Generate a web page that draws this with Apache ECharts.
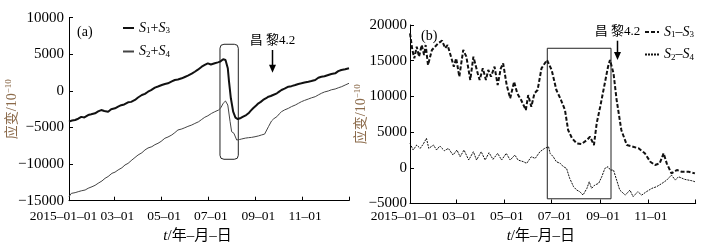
<!DOCTYPE html>
<html>
<head>
<meta charset="utf-8">
<script src="https://cdn.jsdelivr.net/npm/echarts@6/dist/echarts.min.js"></script>
<style>
  html, body { margin: 0; padding: 0; background: #fff; }
  #chart { width: 707px; height: 251px; }
</style>
</head>
<body>
<div id="chart"></div>
<script>
// x positions are day-of-year (0 = 2015-01-01)
const tickDays = [0, 59, 120, 181, 243, 304, 365];
const labelDays = [0, 59, 120, 181, 243, 304];
const tickLabels = ['2015-01-01', '03-01', '05-01', '07-01', '09-01', '11-01'];

// panel (a) S1+S3
const dayA1 = [0,4,8,12,16,20,25,29,34,38,42,46,51,55,60,64,68,72,77,81,86,90,95,99,103,107,112,116,121,125,129,134,138,142,147,151,155,160,164,168,173,177,181,185,190,194,197,201,204,207,208.6,211,214,217,220,224,227,231,234,237,240,244,247,250,253,257,260,263,266,268,271,274,277,281,286,290,295,299,303,307,312,316,321,325,329,333,338,342,347,351,355,360,365];
const valA1 = [-4200,-4050,-3970,-3800,-3550,-3620,-3300,-3200,-3060,-2800,-2620,-2750,-2850,-2500,-2380,-2150,-1950,-1850,-1560,-1500,-1240,-900,-560,-400,-110,100,440,600,810,950,1040,1300,1490,1550,1720,1900,2080,2350,2620,2900,3310,3550,3770,3600,3770,3900,4000,4320,4220,3090,1260,-1010,-2840,-3660,-3840,-3700,-3520,-3300,-3060,-2700,-2380,-2000,-1690,-1500,-1240,-1000,-790,-700,-560,-700,-330,-100,120,300,580,650,810,950,1040,1150,1260,1350,1490,1800,1940,2000,2170,2300,2400,2700,2860,2950,3090];

// panel (a) S2+S4
const dayA2 = [0,3,8,12,16,21,25,30,34,38,43,47,51,56,60,64,69,73,77,82,86,90,95,99,103,108,112,116,120,125,129,134,138,142,147,151,155,160,164,169,173,177,181,186,190,195,198,201,204,207,210,212,215,218.6,222,225,230,234,238,242.5,247,251,255,257,260,264,267,271,274,277,281,286,290,295,299,303,307,312,316,321,325,329,333,338,342,347,351,355.5,360,365];
const valA2 = [-14450,-14000,-13900,-13770,-13650,-13540,-13300,-13090,-12900,-12620,-12300,-11940,-11700,-11260,-11100,-10800,-10500,-10120,-9900,-9440,-9100,-8760,-8450,-8070,-7800,-7620,-7350,-7160,-6900,-6470,-6300,-6020,-5700,-5340,-5200,-5030,-4850,-4660,-4450,-4210,-3900,-3600,-3400,-3060,-2850,-2610,-2300,-1690,-1380,-1930,-4210,-5570,-5790,-6710,-6650,-6570,-6450,-6390,-6350,-6260,-6150,-6020,-5900,-5790,-4890,-4110,-3800,-3520,-3150,-2840,-2600,-2380,-2150,-1930,-1700,-1470,-1300,-1110,-950,-790,-550,-330,-150,-10,150,260,420,580,800,1040];

// panel (b) S1-S3
const dayB1 = [0,3,5.5,8.6,11.5,15,18,20,23,28,32,36,41,45,48,53,56,59,63,68,72,77,81,86.5,89,93,97,100,103.5,108,112,116,119,123.5,128,133,137,142,148,151,155,159,163,168,175,181,187,192,198,202,207,213,219,226,230,235,238.5,243,248,253,255.5,260,264,270,277,285,292,300,307,313,319,324,328,334,341,347,356,364];
const valB1 = [18840,16500,15330,16960,15560,17200,15800,17200,14400,16500,16960,17440,17800,16740,17200,15330,14160,15330,12760,16500,15560,12300,15560,13230,12300,13930,12300,13700,12760,14160,11600,13930,14630,11600,9730,12060,10430,9490,8090,10190,8550,10430,10890,13930,15100,13700,10890,9730,8090,5290,4130,3430,3330,3890,4350,3190,6230,8550,11360,14160,15100,13230,9490,5290,3190,2950,2730,2030,850,390,620,2030,620,-780,-310,-550,-550,-780];

// panel (b) S2-S4
const dayB2 = [0,4,8.6,13,17,21,24,30,34,38,44,49,55,60,64,69,75,81,85,91,96,101,106,112,117,123,128,134,138,145,149,155,160,166,172,177,179,183,187,192,196,200,204,209,213,217,221,226,229,232,236,241,245,249,253,256,260,264,268,275,281,285,291,296,302,309,315,322,328,334,339,343,351,360,364];
const valB2 = [3430,2490,3190,2720,3330,4130,2720,3190,2490,3050,2390,2720,1790,2490,1550,2490,1090,2250,1090,2250,1090,2110,1180,2020,1090,2020,1090,1790,1090,850,620,1550,1320,2250,2720,2950,2020,1550,850,620,150,-80,-1480,-2650,-3120,-3350,-3820,-2880,-1950,-2880,-2420,-2180,-1250,-80,150,-320,-320,-1720,-3120,-3820,-3120,-4050,-3350,-3820,-3350,-2880,-2650,-2180,-1720,-1020,-1720,-1250,-1620,-1810,-1950];

// annotations in data coords: [day0, top, day1, bottom]
const boxA = [196.8, 6370, 220.7, -9340];
const boxB = [175.4, 16740, 256.8, -4340];
const quakeDay = 264;
const arrowA = [5590, 2490];
const arrowB = [17800, 15100];

const FONT = '"Liberation Serif", "Noto Sans CJK SC", serif';
const zip = (xs, ys) => xs.map((x, i) => [x, ys[i]]);

let chart = echarts.init(document.getElementById('chart'));

function xAxisOf(g, gap, pad, margin) {
  return {
    type: 'value', gridIndex: g, min: 0, max: 365,
    axisLine: { onZero: false, lineStyle: { color: '#000', width: 1 } },
    axisTick: { inside: true, length: 4, customValues: tickDays, lineStyle: { color: '#000' } },
    axisLabel: {
      customValues: labelDays, showMinLabel: true, hideOverlap: false,
      color: '#000', fontFamily: FONT, fontSize: 13.5, margin: margin,
      formatter: (v) => {
        let i = labelDays.indexOf(v);
        if (i < 0) return '';
        let s = tickLabels[i].replace(/-/g, '\u2013');
        return (i === 0 ? '{f|' : '{m|') + s + '}';
      },
      rich: {
        f: { fontFamily: FONT, fontSize: 13.5, color: '#000', padding: [0, 11, 0, 0] },
        m: { fontFamily: FONT, fontSize: 13.5, color: '#000', padding: [0, 0, 0, 6] },
      },
    },
    splitLine: { show: false },
    name: '{t|t}/年\u2013月\u2013日',
    nameLocation: 'middle',
    nameGap: gap,
    nameTextStyle: {
      color: '#000', fontFamily: FONT, fontSize: 15, padding: [0, pad, 0, 0],
      rich: { t: { fontStyle: 'italic', fontFamily: FONT, fontSize: 15 } },
    },
  };
}

function yAxisOf(g, min, max, gap, margin) {
  return {
    type: 'value', gridIndex: g, min: min, max: max, interval: 5000,
    axisLine: { show: true, onZero: false, lineStyle: { color: '#000', width: 1 } },
    axisTick: { show: true, inside: true, length: 4, lineStyle: { color: '#000' } },
    axisLabel: {
      color: '#000', fontFamily: FONT, fontSize: 15, margin: margin,
      formatter: (v) => String(v).replace('-', '\u2212'),
    },
    splitLine: { show: false },
    name: '应变/10{sup|\u221210}',
    nameLocation: 'middle',
    nameRotate: 90,
    nameGap: gap,
    nameMoveOverlap: false,
    nameTextStyle: {
      color: '#8b6a4a', fontFamily: FONT, fontSize: 14,
      rich: { sup: { color: '#8b6a4a', fontFamily: FONT, fontSize: 9, padding: [0, 0, 7, 0] } },
    },
  };
}

const legendFmt = (n) => n.replace(/-/g, '\u2013').replace(/S(\d)/g, '{i|S}{s|$1}');
const legendText = {
  color: '#000', fontFamily: FONT, fontSize: 14,
  rich: {
    i: { fontStyle: 'italic', fontFamily: FONT, fontSize: 14 },
    s: { fontFamily: FONT, fontSize: 9, padding: [6, 0, 0, 0] },
  },
};
const noMarker = { color: 'rgba(0,0,0,0)', borderColor: 'rgba(0,0,0,0)', borderWidth: 0 };

let option = {
  animation: false,
  backgroundColor: '#fff',
  grid: [
    { left: 69, top: 17.7, width: 280, height: 183 },
    { left: 410, top: 25, width: 285.7, height: 178.5 },
  ],
  title: [
    { text: '(a)', left: 72, top: 20, textStyle: { fontFamily: FONT, fontSize: 14, fontWeight: 'normal', color: '#000' } },
    { text: '(b)', left: 416, top: 24, textStyle: { fontFamily: FONT, fontSize: 14, fontWeight: 'normal', color: '#000' } },
  ],
  legend: [
    {
      data: ['S1+S3', 'S2+S4'], orient: 'vertical', left: 122, top: 21, padding: 0,
      itemWidth: 11, itemHeight: 10, itemGap: 9, textStyle: legendText, formatter: legendFmt,
      itemStyle: noMarker,
    },
    {
      data: ['S1-S3', 'S2-S4'], orient: 'vertical', left: 644, top: 25, padding: 0,
      itemWidth: 14, itemHeight: 10, itemGap: 8, textStyle: legendText, formatter: legendFmt,
      itemStyle: noMarker,
    },
  ],
  xAxis: [xAxisOf(0, 28, 23, 9), xAxisOf(1, 25, 24, 6)],
  yAxis: [yAxisOf(0, -15000, 10000, 49, 5), yAxisOf(1, -5000, 20000, 41, 3)],
  series: [
    {
      name: 'S1+S3', type: 'line', xAxisIndex: 0, yAxisIndex: 0, data: zip(dayA1, valA1),
      symbol: 'none', lineStyle: { color: '#111', width: 2 }, itemStyle: { color: '#111' },
    },
    {
      name: 'S2+S4', type: 'line', xAxisIndex: 0, yAxisIndex: 0, data: zip(dayA2, valA2),
      symbol: 'none', lineStyle: { color: '#444', width: 1 }, itemStyle: { color: '#444' },
    },
    {
      name: 'S1-S3', type: 'line', xAxisIndex: 1, yAxisIndex: 1, data: zip(dayB1, valB1),
      symbol: 'none', lineStyle: { color: '#111', width: 2, type: [4, 2] }, itemStyle: { color: '#111' },
    },
    {
      name: 'S2-S4', type: 'line', xAxisIndex: 1, yAxisIndex: 1, data: zip(dayB2, valB2),
      symbol: 'none', lineStyle: { color: '#111', width: 1, type: [2, 1] }, itemStyle: { color: '#111' },
    },
  ],
};
chart.setOption(option);

// boxes, arrows and quake labels placed through the axes
function px(g, x, y) {
  return chart.convertToPixel({ gridIndex: g }, [x, y]);
}
function boxEl(g, b, r) {
  let p0 = px(g, b[0], b[1]), p1 = px(g, b[2], b[3]);
  return {
    type: 'rect', silent: true,
    shape: { x: p0[0], y: p0[1], width: p1[0] - p0[0], height: p1[1] - p0[1], r: r },
    style: { fill: 'none', stroke: '#222', lineWidth: 1 },
  };
}
function arrowEls(g, a) {
  let p0 = px(g, quakeDay, a[0]), p1 = px(g, quakeDay, a[1]);
  let x = Math.round(p0[0]) + 0.5;
  return [
    { type: 'line', silent: true, shape: { x1: x, y1: p0[1], x2: x, y2: p1[1] - 6 }, style: { stroke: '#000', lineWidth: 1.5 } },
    { type: 'polygon', silent: true, shape: { points: [[x - 3.5, p1[1] - 8], [x + 3.5, p1[1] - 8], [x, p1[1]]] }, style: { fill: '#000' } },
    {
      type: 'text', silent: true, x: x, y: p0[1] - 9,
      style: { text: '昌 黎4.2', font: '13px ' + FONT, fill: '#000', align: 'center', verticalAlign: 'middle' },
    },
  ];
}
chart.setOption({
  graphic: [boxEl(0, boxA, 4), boxEl(1, boxB, 0)].concat(arrowEls(0, arrowA), arrowEls(1, arrowB)),
});
</script>
</body>
</html>
